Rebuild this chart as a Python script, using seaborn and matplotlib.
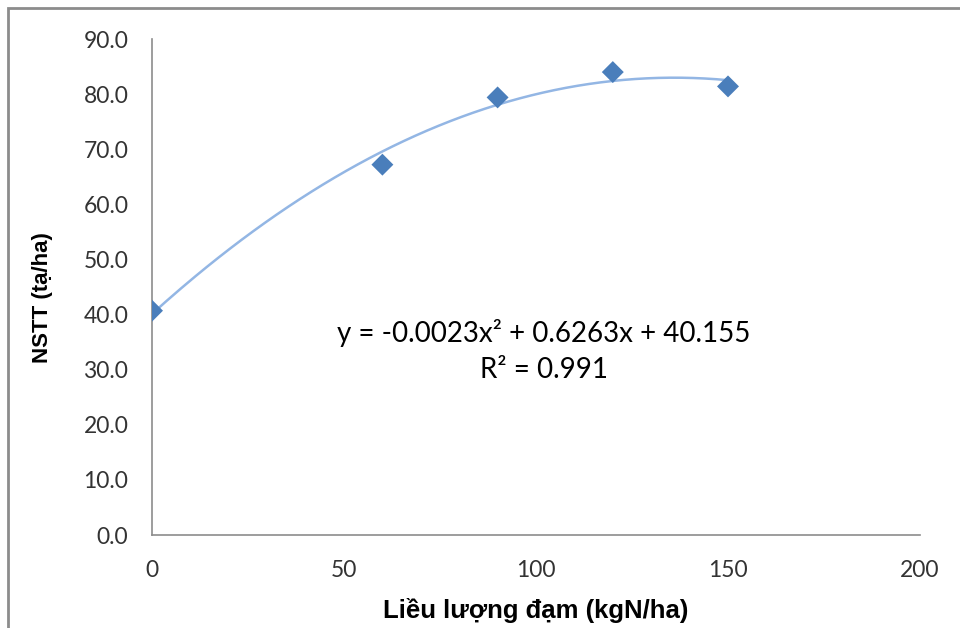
import numpy as np
import pandas as pd
import matplotlib
matplotlib.use("Agg")
import matplotlib.pyplot as plt
import seaborn as sns
from matplotlib.patches import Rectangle

# Data
nitrogen = [0, 60, 90, 120, 150]
yield_vals = [40.7, 67.2, 79.4, 84.0, 81.4]
eq_text = "y = -0.0023x² + 0.6263x + 40.155"
r2_text = "R² = 0.991"
x_label = "Liều lượng đạm (kgN/ha)"
y_label = "NSTT (tạ/ha)"
x_ticks = [0, 50, 100, 150, 200]
y_ticks = [0, 10, 20, 30, 40, 50, 60, 70, 80, 90]

sns.set_style("white")
plt.rcParams['font.family'] = ['Lato', 'DejaVu Sans']

df = pd.DataFrame({"x": nitrogen, "y": yield_vals})

# polynomial trendline fitted from the data
coef = np.polyfit(df["x"], df["y"], 2)
xs = np.linspace(min(nitrogen), max(nitrogen), 200)
trend = pd.DataFrame({"x": xs, "y": np.polyval(coef, xs)})

fig = plt.figure(figsize=(9.6, 6.28), dpi=100)
ax = fig.add_axes([152/960, 1-535/628, (920-152)/960, (535-39)/628])

sns.lineplot(data=trend, x="x", y="y", ax=ax, color="#93B6E4", lw=1.8, zorder=2)
sns.scatterplot(data=df, x="x", y="y", ax=ax, marker="D", s=125,
                color="#4A7EBB", edgecolor="none", zorder=3)

ax.set_xlim(0, 200)
ax.set_ylim(0, 90)
ax.set_xticks(x_ticks)
ax.set_yticks(y_ticks)
ax.set_yticklabels([f"{v:.1f}" for v in y_ticks])
ax.set_xticklabels([str(v) for v in x_ticks])
ax.tick_params(axis="both", length=0, labelsize=16.5, colors="#333333")
ax.tick_params(axis="y", pad=17)
ax.tick_params(axis="x", pad=18)
for s in ["top", "right"]:
    ax.spines[s].set_visible(False)
for s in ["left", "bottom"]:
    ax.spines[s].set_color("#8C8C8C")
    ax.spines[s].set_linewidth(1.2)

ax.set_xlabel(x_label, fontsize=18.5, fontweight="bold", color="#000000",
              family=["Liberation Sans", "DejaVu Sans"], labelpad=12)
ax.set_ylabel(y_label, fontsize=16, fontweight="bold", color="#000000",
              family=["Liberation Sans", "DejaVu Sans"])
ax.yaxis.set_label_coords(-(152 - 53) / 768, (535 - 298) / 496)

ax.text(102, 36.7, eq_text, ha="center", va="center", fontsize=20, color="#000000")
ax.text(102, 30.0, r2_text, ha="center", va="center", fontsize=20, color="#000000")

# chart-area border
fig.patches.append(Rectangle((8/960, -0.1), 1.2, 1 - 8/628 + 0.1, transform=fig.transFigure,
                             fill=False, edgecolor="#8C8C8C", lw=2, zorder=0))

fig.savefig("out.png", dpi=100, facecolor="white")
